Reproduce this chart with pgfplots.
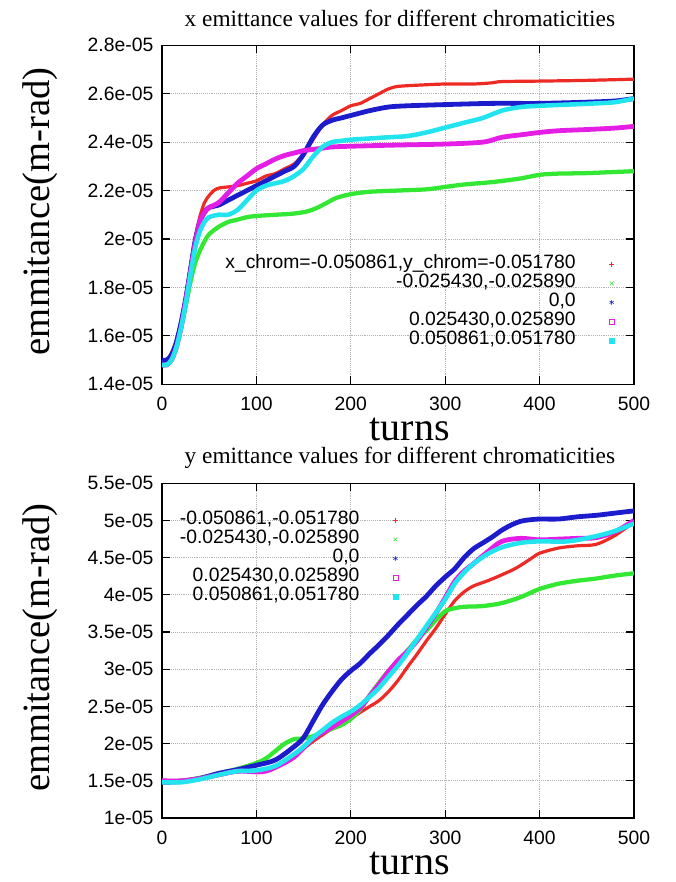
\documentclass[border=0pt]{standalone}
\usepackage{fontspec}
\setmainfont{Liberation Serif}
\setsansfont{Liberation Sans}
\usepackage{pgfplots}
\pgfplotsset{compat=1.18}

\definecolor{gred}{HTML}{EE2A24}
\definecolor{ggreen}{HTML}{33E833}
\definecolor{gblue}{HTML}{1C1CCC}
\definecolor{gmag}{HTML}{E41EE4}
\definecolor{gcyan}{HTML}{22E4EE}

\pgfplotsset{
  emit/.style={
    scale only axis,
    width=354pt,
    xmin=0, xmax=500,
    xtick={0,100,200,300,400,500},
    scaled y ticks=false,
    grid=major,
    grid style={densely dotted, gray!60, line width=0.6pt},
    tick align=inside,
    major tick length=6pt,
    axis line style={black, line width=1.1pt},
    tick style={black, line width=0.9pt},
    /pgf/number format/assume math mode=true,
    tick label style={font=\sffamily\fontsize{14.5}{14.5}\selectfont},
    yticklabel style={xshift=-3pt},
    xticklabel style={yshift=-6pt},
    title style={font=\fontsize{17.5}{20}\selectfont},
    xlabel style={font=\fontsize{30}{30}\selectfont, inner sep=0pt},
    ylabel style={font=\fontsize{29}{32}\selectfont,
      at={(axis description cs:-0.258,0.51)}, anchor=center},
    legend cell align=right,
    legend plot pos=right,
    legend style={draw=none, fill=none, inner sep=0pt,
      font=\sffamily\fontsize{14.5}{14.5}\selectfont,
      nodes={inner sep=0pt, text height=10.4pt, text depth=3.9pt},
      column sep=25pt, row sep=0pt},
  },
  cr/.style={gred, line width=2.4pt, smooth},
  cg/.style={ggreen, line width=3.2pt, smooth},
  cb/.style={gblue, line width=3.6pt, smooth},
  cm/.style={gmag, line width=3.6pt, smooth},
  cc/.style={gcyan, line width=3.4pt, smooth},
}

\begin{document}
\begin{tikzpicture}
\path[use as bounding box] (0,0) rectangle (506.25pt,661.5pt);

% ---- x emittance ----
\begin{axis}[emit,
  at={(121.5pt,373.3pt)}, anchor=south west,
  height=254.25pt,
  ymin=1.4e-5, ymax=2.8e-5,
  ytick={1.4e-5,1.6e-5,1.8e-5,2.0e-5,2.2e-5,2.4e-5,2.6e-5,2.8e-5},
  yticklabels={1.4e-05,1.6e-05,1.8e-05,2e-05,2.2e-05,2.4e-05,2.6e-05,2.8e-05},
  title={x emittance values for different chromaticities},
  title style={at={(axis description cs:0.504,1)}, anchor=center, yshift=14.5pt},
  xlabel={turns},
  xlabel style={at={(axis description cs:0.525,0)}, anchor=base, yshift=-42.5pt},
  ylabel={emmitance(m-rad)},
  legend style={at={(axis description cs:0.959,0.383)}, anchor=north east},
]
\addlegendimage{only marks, mark=+, gred, mark size=2pt}
\addlegendentry{x\_chrom=-0.050861,y\_chrom=-0.051780}
\addlegendimage{only marks, mark=x, ggreen, mark size=2pt}
\addlegendentry{-0.025430,-0.025890}
\addlegendimage{only marks, mark=asterisk, gblue, mark size=1.8pt}
\addlegendentry{0,0}
\addlegendimage{only marks, mark=square, gmag, mark size=1.8pt}
\addlegendentry{0.025430,0.025890}
\addlegendimage{only marks, mark=square*, gcyan, mark size=1.8pt}
\addlegendentry{0.050861,0.051780}

\addplot[cr, forget plot] coordinates {
(0,1.50e-5) (5,1.50e-5) (10,1.53e-5) (15,1.58e-5) (20,1.66e-5) (25,1.76e-5)
(30,1.88e-5) (35,2.00e-5) (40,2.09e-5) (45,2.15e-5) (50,2.18e-5) (55,2.20e-5)
(60,2.21e-5) (70,2.215e-5) (80,2.22e-5) (90,2.23e-5) (100,2.24e-5) (110,2.26e-5)
(120,2.27e-5) (130,2.29e-5) (140,2.31e-5) (150,2.35e-5) (160,2.41e-5) (170,2.47e-5)
(180,2.51e-5) (190,2.53e-5) (200,2.55e-5) (210,2.56e-5) (220,2.58e-5) (230,2.60e-5)
(240,2.62e-5) (250,2.63e-5) (270,2.635e-5) (300,2.64e-5) (330,2.64e-5) (350,2.645e-5)
(360,2.65e-5) (400,2.652e-5) (450,2.655e-5) (500,2.66e-5)};
\addplot[cg, forget plot] coordinates {
(0,1.50e-5) (5,1.50e-5) (10,1.52e-5) (15,1.56e-5) (20,1.63e-5) (25,1.72e-5)
(30,1.82e-5) (35,1.90e-5) (40,1.95e-5) (45,1.99e-5) (50,2.02e-5) (60,2.05e-5)
(70,2.07e-5) (80,2.08e-5) (90,2.09e-5) (100,2.095e-5) (120,2.10e-5) (140,2.105e-5)
(155,2.115e-5) (165,2.13e-5) (175,2.15e-5) (185,2.17e-5) (200,2.185e-5) (220,2.195e-5)
(250,2.20e-5) (280,2.205e-5) (300,2.215e-5) (320,2.225e-5) (350,2.235e-5) (380,2.25e-5)
(400,2.265e-5) (420,2.27e-5) (450,2.272e-5) (500,2.28e-5)};
\addplot[cb, forget plot] coordinates {
(0,1.50e-5) (5,1.50e-5) (10,1.52e-5) (15,1.57e-5) (20,1.65e-5) (25,1.75e-5)
(30,1.87e-5) (35,1.99e-5) (40,2.07e-5) (45,2.11e-5) (50,2.13e-5) (60,2.14e-5)
(70,2.16e-5) (80,2.18e-5) (90,2.20e-5) (100,2.22e-5) (110,2.24e-5) (120,2.26e-5)
(130,2.28e-5) (140,2.30e-5) (150,2.35e-5) (160,2.42e-5) (170,2.47e-5) (180,2.49e-5)
(190,2.50e-5) (200,2.51e-5) (220,2.53e-5) (240,2.545e-5) (260,2.55e-5) (300,2.555e-5)
(350,2.56e-5) (400,2.56e-5) (450,2.565e-5) (480,2.57e-5) (500,2.58e-5)};
\addplot[cm, forget plot] coordinates {
(0,1.48e-5) (5,1.48e-5) (10,1.50e-5) (15,1.55e-5) (20,1.63e-5) (25,1.74e-5)
(30,1.86e-5) (35,1.98e-5) (40,2.07e-5) (45,2.11e-5) (50,2.13e-5) (60,2.15e-5)
(70,2.19e-5) (80,2.23e-5) (90,2.26e-5) (100,2.29e-5) (110,2.31e-5) (120,2.33e-5)
(130,2.345e-5) (140,2.355e-5) (150,2.365e-5) (160,2.37e-5) (170,2.375e-5) (180,2.38e-5)
(200,2.383e-5) (250,2.388e-5) (300,2.392e-5) (340,2.40e-5) (360,2.42e-5) (380,2.43e-5)
(400,2.44e-5) (420,2.447e-5) (450,2.452e-5) (480,2.458e-5) (500,2.465e-5)};
\addplot[cc, forget plot] coordinates {
(0,1.48e-5) (5,1.48e-5) (10,1.50e-5) (15,1.55e-5) (20,1.63e-5) (25,1.73e-5)
(30,1.85e-5) (35,1.96e-5) (40,2.03e-5) (45,2.07e-5) (50,2.09e-5) (60,2.10e-5)
(70,2.10e-5) (80,2.12e-5) (90,2.16e-5) (100,2.20e-5) (110,2.22e-5) (120,2.23e-5)
(130,2.24e-5) (140,2.26e-5) (150,2.29e-5) (160,2.34e-5) (170,2.38e-5) (180,2.40e-5)
(190,2.405e-5) (200,2.41e-5) (220,2.415e-5) (240,2.42e-5) (260,2.425e-5) (280,2.44e-5)
(300,2.46e-5) (320,2.48e-5) (340,2.50e-5) (360,2.53e-5) (380,2.545e-5) (400,2.55e-5)
(430,2.555e-5) (460,2.56e-5) (480,2.565e-5) (500,2.58e-5)};
\end{axis}

% ---- y emittance ----
\begin{axis}[emit,
  at={(121.5pt,48pt)}, anchor=south west,
  height=251pt,
  ymin=1e-5, ymax=5.5e-5,
  ytick={1e-5,1.5e-5,2e-5,2.5e-5,3e-5,3.5e-5,4e-5,4.5e-5,5e-5,5.5e-5},
  yticklabels={1e-05,1.5e-05,2e-05,2.5e-05,3e-05,3.5e-05,4e-05,4.5e-05,5e-05,5.5e-05},
  title={y emittance values for different chromaticities},
  title style={at={(axis description cs:0.504,1)}, anchor=center, yshift=13.5pt},
  xlabel={turns},
  xlabel style={at={(axis description cs:0.525,0)}, anchor=base, yshift=-42pt},
  ylabel={emmitance(m-rad)},
  legend style={at={(axis description cs:0.5007,0.9187)}, anchor=north east},
]
\addlegendimage{only marks, mark=+, gred, mark size=2pt}
\addlegendentry{-0.050861,-0.051780}
\addlegendimage{only marks, mark=x, ggreen, mark size=2pt}
\addlegendentry{-0.025430,-0.025890}
\addlegendimage{only marks, mark=asterisk, gblue, mark size=1.8pt}
\addlegendentry{0,0}
\addlegendimage{only marks, mark=square, gmag, mark size=1.8pt}
\addlegendentry{0.025430,0.025890}
\addlegendimage{only marks, mark=square*, gcyan, mark size=1.8pt}
\addlegendentry{0.050861,0.051780}

\addplot[cr, forget plot] coordinates {
(0,1.50e-5) (20,1.50e-5) (40,1.53e-5) (60,1.58e-5) (80,1.62e-5) (100,1.64e-5)
(120,1.68e-5) (140,1.84e-5) (160,2.03e-5) (180,2.20e-5) (200,2.34e-5) (210,2.42e-5)
(220,2.50e-5) (230,2.58e-5) (240,2.70e-5) (250,2.85e-5) (260,3.03e-5) (270,3.20e-5)
(280,3.38e-5) (290,3.55e-5) (300,3.74e-5) (310,3.92e-5) (320,4.04e-5) (330,4.12e-5)
(345,4.19e-5) (360,4.27e-5) (375,4.36e-5) (390,4.48e-5) (400,4.56e-5) (420,4.63e-5)
(440,4.66e-5) (460,4.68e-5) (480,4.80e-5) (500,4.98e-5)};
\addplot[cg, forget plot] coordinates {
(0,1.50e-5) (20,1.50e-5) (40,1.54e-5) (60,1.60e-5) (80,1.66e-5) (100,1.74e-5)
(110,1.80e-5) (120,1.90e-5) (130,2.00e-5) (140,2.06e-5) (150,2.07e-5) (160,2.10e-5)
(170,2.15e-5) (180,2.20e-5) (190,2.25e-5) (200,2.33e-5) (210,2.46e-5) (220,2.65e-5)
(230,2.82e-5) (240,2.98e-5) (250,3.10e-5) (260,3.25e-5) (270,3.40e-5) (280,3.52e-5)
(290,3.66e-5) (300,3.78e-5) (310,3.82e-5) (320,3.84e-5) (340,3.85e-5) (360,3.89e-5)
(380,3.97e-5) (400,4.08e-5) (420,4.15e-5) (440,4.19e-5) (460,4.22e-5) (480,4.26e-5)
(500,4.29e-5)};
\addplot[cb, forget plot] coordinates {
(0,1.48e-5) (20,1.49e-5) (40,1.53e-5) (60,1.60e-5) (80,1.65e-5) (100,1.71e-5)
(120,1.78e-5) (140,1.96e-5) (150,2.08e-5) (160,2.30e-5) (170,2.52e-5) (180,2.70e-5)
(190,2.86e-5) (200,2.98e-5) (210,3.08e-5) (220,3.21e-5) (230,3.33e-5) (240,3.46e-5)
(250,3.60e-5) (260,3.73e-5) (270,3.86e-5) (280,3.98e-5) (290,4.12e-5) (300,4.24e-5)
(310,4.35e-5) (320,4.50e-5) (330,4.62e-5) (340,4.70e-5) (350,4.78e-5) (360,4.87e-5)
(370,4.94e-5) (380,4.99e-5) (390,5.01e-5) (400,5.02e-5) (420,5.02e-5) (440,5.05e-5)
(460,5.07e-5) (480,5.10e-5) (500,5.13e-5)};
\addplot[cm, forget plot] coordinates {
(0,1.50e-5) (20,1.50e-5) (40,1.53e-5) (60,1.58e-5) (80,1.63e-5) (100,1.62e-5)
(110,1.63e-5) (120,1.68e-5) (140,1.82e-5) (160,2.07e-5) (180,2.22e-5) (200,2.38e-5)
(210,2.48e-5) (220,2.64e-5) (230,2.80e-5) (240,2.97e-5) (250,3.12e-5) (260,3.24e-5)
(270,3.38e-5) (280,3.56e-5) (290,3.75e-5) (300,3.96e-5) (310,4.18e-5) (320,4.32e-5)
(330,4.42e-5) (345,4.58e-5) (360,4.72e-5) (380,4.76e-5) (400,4.74e-5) (420,4.75e-5)
(440,4.76e-5) (460,4.77e-5) (480,4.85e-5) (500,5.00e-5)};
\addplot[cc, forget plot] coordinates {
(0,1.48e-5) (20,1.48e-5) (40,1.52e-5) (60,1.58e-5) (80,1.63e-5) (100,1.64e-5)
(120,1.70e-5) (140,1.86e-5) (150,1.96e-5) (160,2.08e-5) (170,2.18e-5) (180,2.28e-5)
(190,2.36e-5) (200,2.43e-5) (210,2.52e-5) (220,2.63e-5) (230,2.75e-5) (240,2.90e-5)
(250,3.05e-5) (260,3.22e-5) (270,3.40e-5) (280,3.58e-5) (290,3.76e-5) (300,3.94e-5)
(310,4.15e-5) (320,4.30e-5) (330,4.42e-5) (345,4.55e-5) (360,4.64e-5) (380,4.70e-5)
(400,4.72e-5) (430,4.72e-5) (460,4.79e-5) (480,4.86e-5) (500,4.96e-5)};
\end{axis}
\end{tikzpicture}
\end{document}
